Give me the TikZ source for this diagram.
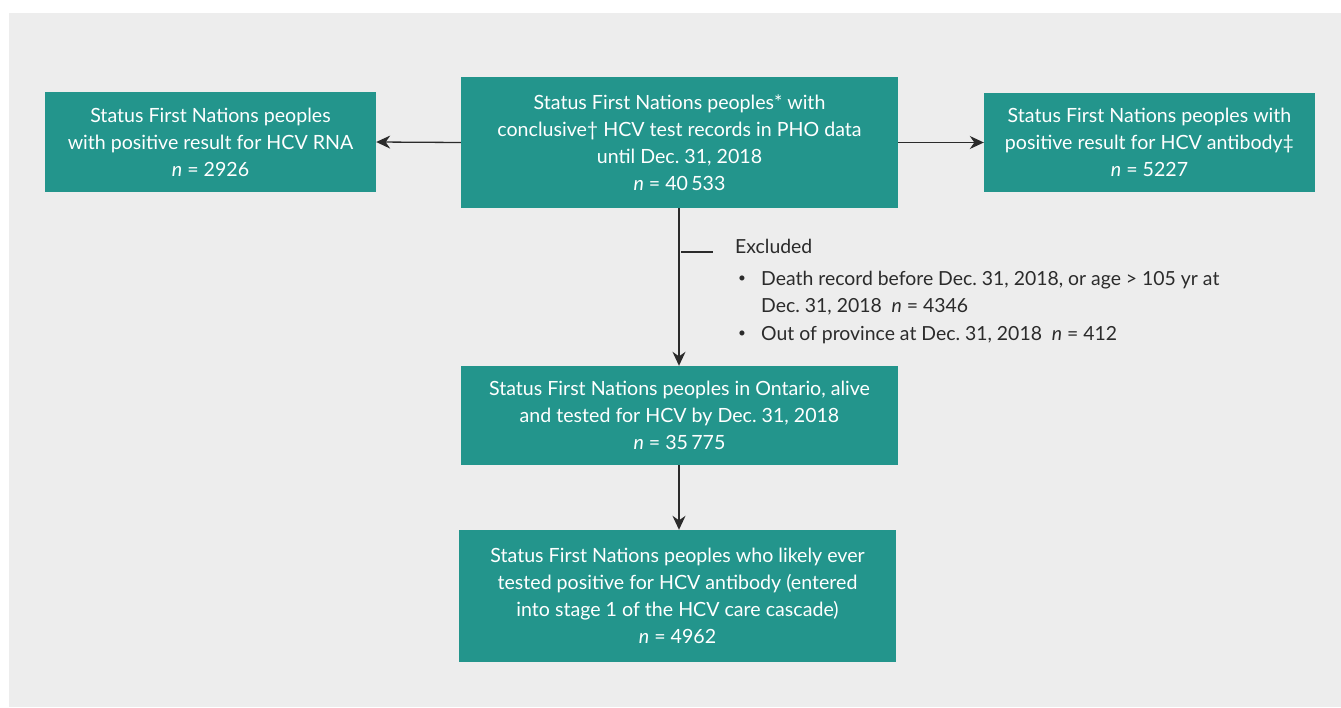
\documentclass[tikz,border=0pt]{standalone}
\usepackage{fontspec}
\setmainfont{Lato}
\usetikzlibrary{arrows.meta}
\frenchspacing
\definecolor{teal1}{HTML}{23958C}
\definecolor{bg}{HTML}{EDEDED}
\definecolor{ink}{HTML}{2B2B2B}
\tikzset{
  box/.style={fill=teal1, text=white, align=center, inner sep=0pt,
    font=\fontsize{19.6}{27}\selectfont\frenchspacing},
  conn/.style={draw=ink, line width=1.3pt, -{Stealth[length=14pt,width=13pt]}},
  tick/.style={draw=ink, line width=1.1pt},
  lbl/.style={text=ink, anchor=base west, inner sep=0pt, font=\fontsize{19.4}{27}\selectfont\frenchspacing}
}
\newcommand{\smbul}{\raisebox{0.25ex}{\scalebox{0.7}{\textbullet}}}
\begin{document}
\begin{tikzpicture}[x=1pt,y=-1pt]
\useasboundingbox (0,0) rectangle (1341,707);
\fill[white] (0,0) rectangle (1341,707);
\fill[bg] (9,13) rectangle (1341,707);

\node[box, minimum width=437pt, minimum height=131pt] (top) at (679.5,142.5)
  {Status First Nations peoples* with\\conclusive† HCV test records in PHO data\\until Dec. 31, 2018\\\textit{n} = 40\,533};
\node[box, minimum width=331pt, minimum height=100pt] (left) at (210.5,142)
  {Status First Nations peoples\\with positive result for HCV RNA\\\textit{n} = 2926};
\node[box, minimum width=331pt, minimum height=99pt] (right) at (1149.5,142.5)
  {Status First Nations peoples with\\positive result for HCV antibody‡\\\textit{n} = 5227};
\node[box, minimum width=437pt, minimum height=99pt] (mid) at (679.5,415.5)
  {Status First Nations peoples in Ontario, alive\\and tested for HCV by Dec. 31, 2018\\\textit{n} = 35\,775};
\node[box, minimum width=437pt, minimum height=132pt] (bot) at (677.5,596)
  {Status First Nations peoples who likely ever\\tested positive for HCV antibody (entered\\into stage 1 of the HCV care cascade)\\\textit{n} = 4962};

\draw[conn] (top.west) -- (left.east);
\draw[conn] (top.east) -- (right.west);
\draw[conn] (top.south -| 679,0) -- (mid.north -| 679,0);
\draw[conn] (mid.south -| 679,0) -- (bot.north -| 679,0);

\coordinate (tk1) at (681,252);
\coordinate (tk2) at (713,252);
\draw[tick] (tk1) -- (tk2);

\node[lbl] (ex) at (735,253) {Excluded};
\node[lbl] (b1) at (738,285) {\smbul};
\node[lbl] (e1) at (761,285) {Death record before Dec. 31, 2018, or age > 105 yr at};
\node[lbl] (e2) at (761,312) {Dec. 31, 2018~ \textit{n} = 4346};
\node[lbl] (b2) at (738,340) {\smbul};
\node[lbl] (e3) at (761,340) {Out of province at Dec. 31, 2018~ \textit{n} = 412};
\end{tikzpicture}
\end{document}
